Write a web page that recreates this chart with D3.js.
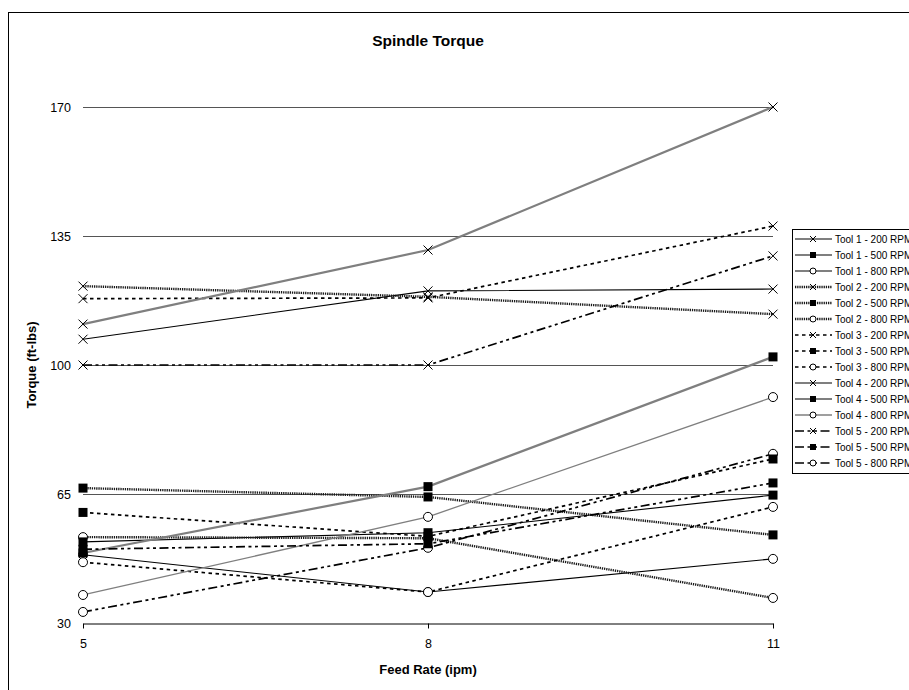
<!DOCTYPE html>
<html>
<head>
<meta charset="utf-8">
<script src="https://cdn.jsdelivr.net/npm/d3@7"></script>
<style>
  html, body { margin: 0; padding: 0; background: #fff; }
  svg { display: block; font-family: Arial, "Liberation Sans", sans-serif; }
</style>
</head>
<body>
<svg id="chart" width="909" height="690"></svg>
<script>
// Feed rates on the x axis and tick values on the y axis
const feedRates = [5, 8, 11];
const torqueTicks = [30, 65, 100, 135, 170];

// Spindle torque (ft-lbs) per tool and spindle speed, at 5, 8 and 11 ipm
const tool1_200 = [107.0, 120.1, 120.6];
const tool1_500 = [52.0, 54.5, 64.7];
const tool1_800 = [48.5, 38.4, 47.4];
const tool2_200 = [121.4, 118.5, 113.8];
const tool2_500 = [66.6, 64.2, 53.9];
const tool2_800 = [53.3, 53.0, 36.8];
const tool3_200 = [118.0, 118.2, 137.7];
const tool3_500 = [60.0, 53.5, 74.5];
const tool3_800 = [46.5, 38.4, 61.5];
const tool4_200 = [111.1, 131.2, 170.0];
const tool4_500 = [49.0, 67.0, 102.2];
const tool4_800 = [37.6, 58.8, 91.3];
const tool5_200 = [100.0, 100.0, 129.6];
const tool5_500 = [50.0, 51.5, 68.0];
const tool5_800 = [33.0, 50.4, 75.9];

const tools = [1, 2, 3, 4, 5];
const speeds = [200, 500, 800];
const seriesValues = [
  [tool1_200, tool1_500, tool1_800],
  [tool2_200, tool2_500, tool2_800],
  [tool3_200, tool3_500, tool3_800],
  [tool4_200, tool4_500, tool4_800],
  [tool5_200, tool5_500, tool5_800]
];

const series = [];
tools.forEach((t, ti) => speeds.forEach((s, si) => {
  series.push({
    tool: t, rpm: s,
    name: `Tool ${t} - ${s} RPM`,
    values: seriesValues[ti][si].map((v, i) => ({ x: feedRates[i], y: v }))
  });
}));

// Line look per tool; marker shape per spindle speed
function lineStyle(d) {
  switch (d.tool) {
    case 1: return { stroke: "#000", width: 1.1, dash: null };
    case 2: return { stroke: "#1a1a1a", width: 2.4, dash: "1.3,0.9" };
    case 3: return { stroke: "#000", width: 1.7, dash: "3.5,3.5" };
    case 4: return { stroke: "#7f7f7f", width: d.rpm === 800 ? 1.3 : 2.2, dash: null };
    case 5: return { stroke: "#000", width: 1.7, dash: "9,3.5,3,3.5,3,3.5" };
  }
}

const svg = d3.select("#chart");
const W = 909, H = 690;
const plot = { left: 83, right: 773, top: 107, bottom: 623 };

// Chart area frame
svg.append("rect").attr("x", 0).attr("y", 0).attr("width", W).attr("height", H).attr("fill", "#fff");
svg.append("rect").attr("x", 8.5).attr("y", 12.5).attr("width", 1000).attr("height", 1000)
  .attr("fill", "none").attr("stroke", "#000").attr("stroke-width", 1);

const x = d3.scaleLinear().domain([5, 11]).range([plot.left, plot.right]);
const y = d3.scaleLinear().domain([30, 170]).range([plot.bottom, plot.top]);

// Title
svg.append("text").attr("x", (plot.left + plot.right) / 2).attr("y", 46).attr("text-anchor", "middle")
  .attr("font-size", 15.5).attr("font-weight", "bold").text("Spindle Torque");

// Horizontal gridlines
svg.append("g").selectAll("line").data(torqueTicks.filter(t => t > 30)).join("line")
  .attr("x1", plot.left).attr("x2", plot.right)
  .attr("y1", d => Math.round(y(d)) + 0.5).attr("y2", d => Math.round(y(d)) + 0.5)
  .attr("stroke", "#555").attr("stroke-width", 1);

// Y axis labels (no axis line)
const yAxis = d3.axisLeft(y).tickValues(torqueTicks).tickSize(0).tickPadding(12).tickFormat(d3.format("d"));
const gy = svg.append("g").attr("transform", `translate(${plot.left},0)`).call(yAxis);
gy.select(".domain").remove();
gy.selectAll("text").attr("font-size", 12.5).attr("font-family", "Arial, 'Liberation Sans', sans-serif").attr("fill", "#000");

// X axis
const xAxis = d3.axisBottom(x).tickValues(feedRates).tickSize(5).tickSizeOuter(0).tickPadding(11).tickFormat(d3.format("d"));
const gx = svg.append("g").attr("transform", `translate(0,${plot.bottom + 0.5})`).call(xAxis);
gx.select(".domain").attr("stroke", "#000");
gx.selectAll(".tick line").attr("stroke", "#000");
gx.selectAll("text").attr("font-size", 12.5).attr("font-family", "Arial, 'Liberation Sans', sans-serif").attr("fill", "#000");

// Axis titles
svg.append("text").attr("x", (plot.left + plot.right) / 2).attr("y", 674).attr("text-anchor", "middle")
  .attr("font-size", 13).attr("font-weight", "bold").text("Feed Rate (ipm)");
svg.append("text").attr("transform", `translate(36,${(plot.top + plot.bottom) / 2}) rotate(-90)`)
  .attr("text-anchor", "middle").attr("font-size", 13).attr("font-weight", "bold").text("Torque (ft-lbs)");

// Marker drawing helper
function drawMarker(g, rpm, cx, cy, size) {
  const h = size / 2;
  if (rpm === 200) {
    g.append("path").attr("d", `M${cx - h},${cy - h}L${cx + h},${cy + h}M${cx - h},${cy + h}L${cx + h},${cy - h}`)
      .attr("stroke", "#000").attr("stroke-width", 1).attr("fill", "none");
  } else if (rpm === 500) {
    g.append("rect").attr("x", cx - h).attr("y", cy - h).attr("width", size).attr("height", size).attr("fill", "#000");
  } else {
    g.append("circle").attr("cx", cx).attr("cy", cy).attr("r", h).attr("fill", "#fff")
      .attr("stroke", "#000").attr("stroke-width", 1);
  }
}

// Series lines
const line = d3.line().x(d => x(d.x)).y(d => y(d.y));
const linesG = svg.append("g");
series.forEach(s => {
  const st = lineStyle(s);
  linesG.append("path").datum(s.values).attr("d", line).attr("fill", "none")
    .attr("stroke", st.stroke).attr("stroke-width", st.width)
    .attr("stroke-dasharray", st.dash);
});

// Markers: circles, then crosses, then squares on top
const markersG = svg.append("g");
[800, 200, 500].forEach(rpm => {
  series.filter(s => s.rpm === rpm).forEach(s => {
    s.values.forEach(v => drawMarker(markersG, rpm, x(v.x), y(v.y), 9));
  });
});

// Legend
const legend = svg.append("g");
legend.append("rect").attr("x", 792.5).attr("y", 229.5).attr("width", 200).attr("height", 244)
  .attr("fill", "#fff").attr("stroke", "#000").attr("stroke-width", 1);
series.forEach((s, i) => {
  const ly = 239 + i * 16;
  const st = lineStyle(s);
  legend.append("line").attr("x1", 795).attr("x2", 832).attr("y1", ly).attr("y2", ly)
    .attr("stroke", st.stroke).attr("stroke-width", st.width).attr("stroke-dasharray", st.dash);
  drawMarker(legend, s.rpm, 813, ly, 6);
  legend.append("text").attr("x", 835).attr("y", ly + 3.5).attr("font-size", 10).text(s.name);
});
</script>
</body>
</html>
